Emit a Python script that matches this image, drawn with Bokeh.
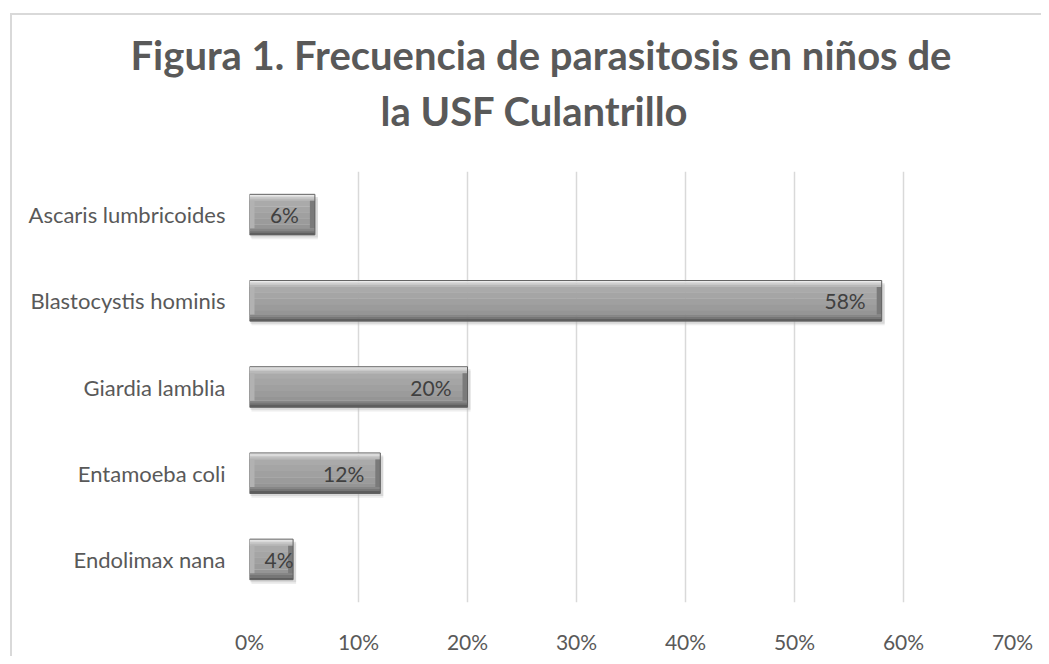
from bokeh.plotting import figure
from bokeh.models import (ColumnDataSource, NumeralTickFormatter, Title,
                          FixedTicker, LabelSet)
from bokeh.transform import dodge
from bokeh.core.properties import value
from bokeh.embed import file_html
from bokeh.resources import INLINE

categories = ["Endolimax nana", "Entamoeba coli", "Giardia lamblia",
              "Blastocystis hominis", "Ascaris lumbricoides"]
values = [0.04, 0.12, 0.20, 0.58, 0.06]
value_labels = ["4%", "12%", "20%", "58%", "6%"]
x_ticks = [0.0, 0.1, 0.2, 0.3, 0.4, 0.5, 0.6, 0.7]
title_line1 = "Figura 1. Frecuencia de parasitosis en niños de"
title_line2 = "la USF Culantrillo"

FONT = "Lato"
TXT = "#595959"

px = 0.7 / 763.0          # one pixel in x data units
bevel_x = 5 * px
src = ColumnDataSource(dict(
    cat=categories, val=values, lab=value_labels,
    val_in=[v - bevel_x for v in values],
    lab_x=[max(v - 16 * px, 44 * px) for v in values],
    sh_r=[v + 3 * px for v in values],
))

p = figure(width=1041, height=656, y_range=categories, x_range=(0, 0.7),
           output_backend="svg", toolbar_location=None,
           min_border_left=249, min_border_right=29,
           min_border_top=171, min_border_bottom=44)
p.outline_line_color = None
p.background_fill_color = "white"
p.border_fill_alpha = 0
p.styles = {
    "background": ("linear-gradient(#d9d9d9, #d9d9d9) 10px 13px / 2px calc(100% - 13px) no-repeat, "
                   "linear-gradient(#d9d9d9, #d9d9d9) 10px 13px / calc(100% - 10px) 2px no-repeat, "
                   "white"),
}

H = 0.47
# soft shadow
p.hbar(y=dodge("cat", -0.05, range=p.y_range), left=2 * px, right="sh_r", height=H,
       source=src, fill_color="#bdbdbd", fill_alpha=0.25, line_color=None)
p.hbar(y=dodge("cat", -0.03, range=p.y_range), left=1 * px, right="sh_r", height=H,
       source=src, fill_color="#b0b0b0", fill_alpha=0.35, line_color=None)

# vertical gradient profile of the bevelled bar (fractions from top, colour)
profile = [
    (0.00, 0.03, "#f4f4f4"),
    (0.03, 0.07, "#dadada"),
    (0.07, 0.11, "#c9c9c9"),
    (0.11, 0.16, "#b9b9b9"),
    (0.16, 0.30, "#aaaaaa"),
    (0.30, 0.45, "#a5a5a5"),
    (0.45, 0.60, "#a0a0a0"),
    (0.60, 0.75, "#9b9b9b"),
    (0.75, 0.84, "#959595"),
    (0.84, 0.89, "#868686"),
    (0.89, 0.94, "#767676"),
    (0.94, 1.00, "#5e5e5e"),
]
for f0, f1, col in profile:
    centre = H / 2 - H * (f0 + f1) / 2
    p.hbar(y=dodge("cat", centre, range=p.y_range), left=0, right="val",
           height=H * (f1 - f0) + 0.002, source=src, fill_color=col, line_color=None)

# side bevels
p.hbar(y="cat", left=0, right=bevel_x, height=H * 0.68, source=src,
       fill_color="#b2b2b2", line_color=None)
p.hbar(y="cat", left="val_in", right="val", height=H * 0.68, source=src,
       fill_color="#7a7a7a", line_color=None)
# outline
p.hbar(y="cat", left=0, right="val", height=H, source=src,
       fill_alpha=0, line_color="#606060", line_width=1)

labels = LabelSet(x="lab_x", y="cat", text="lab", source=src, text_align="right",
                  text_baseline="middle", text_font=value(FONT), text_font_size="21px",
                  text_color="#404040")
p.add_layout(labels)

p.xaxis.ticker = FixedTicker(ticks=x_ticks)
p.xaxis.formatter = NumeralTickFormatter(format="0%")
p.xaxis.axis_line_color = None
p.xaxis.major_tick_line_color = None
p.xaxis.minor_tick_line_color = None
p.xaxis.major_label_text_font = FONT
p.xaxis.major_label_text_font_size = "21px"
p.xaxis.major_label_text_color = TXT
p.xaxis.major_label_standoff = 20

p.yaxis.axis_line_color = None
p.yaxis.major_tick_line_color = None
p.yaxis.minor_tick_line_color = None
p.yaxis.major_tick_out = 0
p.yaxis.major_label_text_font = FONT
p.yaxis.major_label_text_font_size = "22px"
p.yaxis.major_label_text_color = TXT
p.yaxis.major_label_standoff = 24

p.ygrid.grid_line_color = None
p.xgrid.grid_line_color = "#d9d9d9"
p.xgrid.grid_line_width = 1.5

p.add_layout(Title(text=title_line2, align="left", offset=131, standoff=74,
                   text_font=FONT, text_font_style="bold", text_font_size="40px",
                   text_color=TXT), "above")
p.add_layout(Title(text=title_line1, align="left", offset=-119, standoff=-63,
                   text_font=FONT, text_font_style="bold", text_font_size="40px",
                   text_color=TXT), "above")

open("out.html", "w").write(file_html(p, INLINE))
